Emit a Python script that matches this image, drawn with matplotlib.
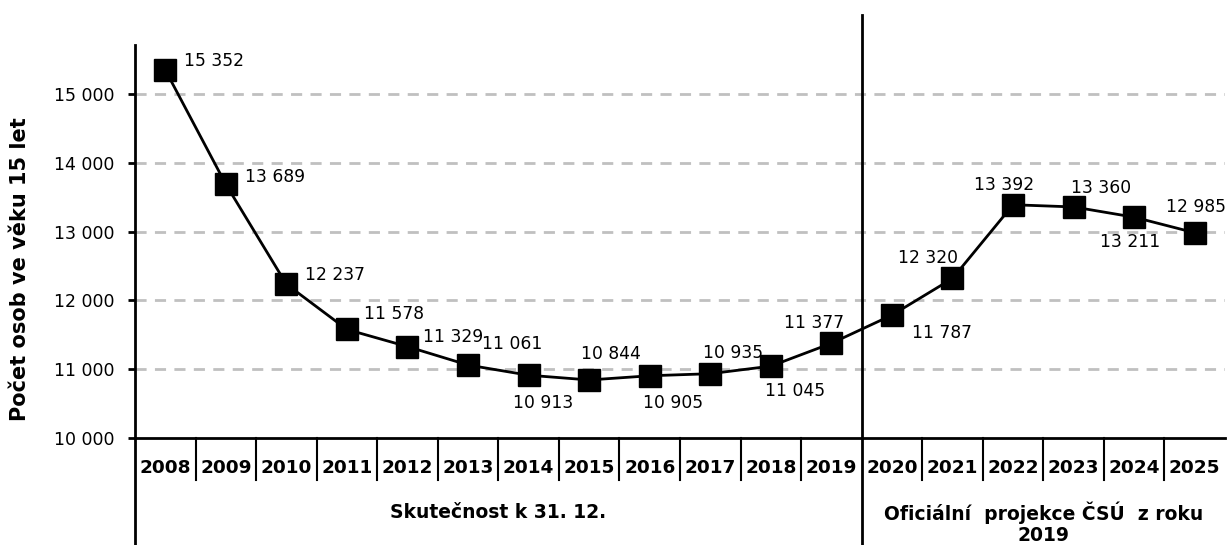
import numpy as np
import matplotlib
matplotlib.use("Agg")
import matplotlib.pyplot as plt

# data
years = [str(y) for y in range(2008, 2026)]
values = [15352, 13689, 12237, 11578, 11329, 11061, 10913, 10844, 10905,
          10935, 11045, 11377, 11787, 12320, 13392, 13360, 13211, 12985]
groups = ["Skutečnost k 31. 12.", "Oficiální  projekce ČSÚ  z roku\n2019"]
group_sizes = [12, 6]
y_ticks = [10000, 11000, 12000, 13000, 14000, 15000]

# label offsets from marker centre (pixels, right / down)
lab_dx = [49, 49, 49, 47, 46, 44, 15, 22, 23, 23, 24, -17, 50, -24, -9, 27, -4, 1]
lab_dy = [-9, -7, -9, -15, -10, -21, 28, -26, 27, -21, 25, -20, 18, -20, -20, -19, 25, -26]

W, H = 1228, 545
fig = plt.figure(figsize=(W / 100, H / 100), dpi=100)
plt.rcParams['font.family'] = 'DejaVu Sans'

# axes box in pixels: x 135..1225, y 45..438
ax = fig.add_axes([135 / W, (H - 438) / H, (1225 - 135) / W, (438 - 45) / H])
x = np.arange(len(years))
ax.set_xlim(-0.5, len(years) - 0.5)
ax.set_ylim(10000, 15715)

ax.plot(x, values, color='black', lw=2, marker='s', markersize=16,
        markerfacecolor='black', markeredgecolor='black', zorder=3, clip_on=False)

for i, v in enumerate(values):
    ax.annotate('{:,}'.format(v).replace(',', ' '), (x[i], v),
                xytext=(lab_dx[i], -lab_dy[i]), textcoords='offset pixels',
                ha='center', va='center', fontsize=12.3, zorder=4,
                annotation_clip=False)

# gridlines
for t in y_ticks[1:]:
    ax.axhline(t, color='#c0c0c0', lw=2, dashes=(4, 3), zorder=1)

ax.set_yticks(y_ticks)
ax.set_yticklabels(['{:,}'.format(t).replace(',', ' ') for t in y_ticks], fontsize=12.5)
ax.tick_params(axis='y', direction='out', length=5, width=2, pad=10)
ax.set_xticks([])

for s in ['top', 'right']:
    ax.spines[s].set_visible(False)
ax.spines['left'].set_linewidth(2)
ax.spines['bottom'].set_linewidth(2)

# category axis: years and groups
tr = ax.get_xaxis_transform()
ax_h = 438 - 45
y_year = -(468 - 438) / ax_h
y_sep = -(480 - 438) / ax_h
y_bottom = -(545 - 438) / ax_h
y_topline = (438 - 15) / ax_h

for i, yr in enumerate(years):
    ax.text(x[i], y_year, yr, transform=tr, ha='center', va='center',
            fontsize=13.3, fontweight='bold')

bounds = np.cumsum([0] + group_sizes)
for k in range(1, len(years)):
    if k in bounds:
        continue
    ax.plot([k - 0.5, k - 0.5], [0, y_sep], transform=tr, color='black',
            lw=1.5, clip_on=False)

ax.plot([-0.5, -0.5], [0, y_bottom], transform=tr, color='black', lw=2, clip_on=False)
ax.plot([bounds[1] - 0.5] * 2, [y_bottom, y_topline], transform=tr,
        color='black', lw=2, clip_on=False)

y_grp = [-(512 - 438) / ax_h, -(523 - 438) / ax_h]
for g, name in enumerate(groups):
    cx = (bounds[g] + bounds[g + 1] - 1) / 2
    ax.text(cx, y_grp[g], name, transform=tr, ha='center', va='center',
            fontsize=13.5, fontweight='bold', linespacing=1.15)

fig.text(20 / W, 1 - 269 / H, 'Počet osob ve věku 15 let', rotation=90,
         ha='center', va='center', fontsize=15, fontweight='bold')

fig.savefig('out.png', dpi=100)
